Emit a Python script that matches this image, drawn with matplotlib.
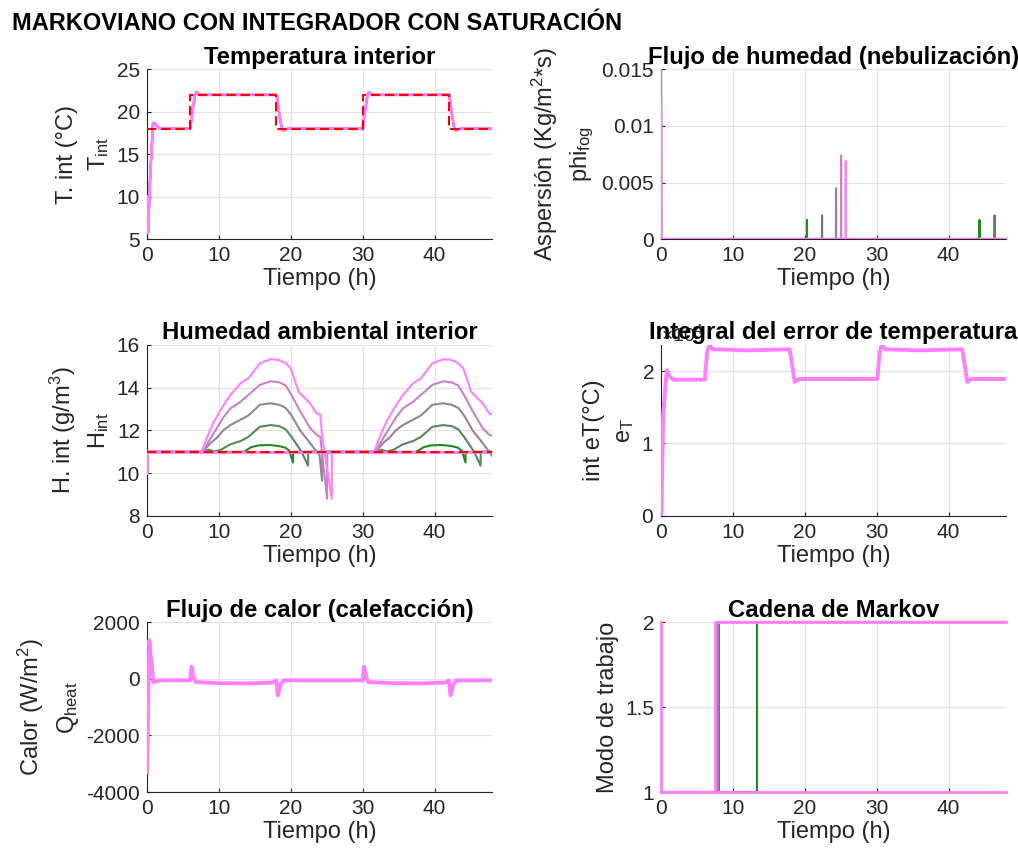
import matplotlib
matplotlib.use("Agg")
import matplotlib.pyplot as plt
from matplotlib.ticker import FuncFormatter, ScalarFormatter

plt.rcParams["font.family"] = ["Liberation Sans", "DejaVu Sans"]
plt.rcParams["axes.unicode_minus"] = False
plt.rcParams["mathtext.fontset"] = "custom"
plt.rcParams["mathtext.rm"] = "Liberation Sans"
plt.rcParams["mathtext.it"] = "Liberation Sans:italic"
plt.rcParams["mathtext.bf"] = "Liberation Sans:bold"

# one colour per simulation run, green -> pink
run_colors = ["#228b22", "#598859", "#918691", "#c883c8", "#ff80ff", "#ff80ff"]

# setpoints
t_sp = [0, 6, 6, 18, 18, 30, 30, 42, 42, 48]
temp_sp = [18, 18, 22, 22, 18, 18, 22, 22, 18, 18]
hum_sp_t = [0, 48]
hum_sp = [11, 11]

# interior temperature (same for every run)
t_temp = [0, 0.14, 0.45, 0.83, 1.06, 1.4, 1.85, 6.0, 6.3, 6.7, 6.9, 7.4, 18.05, 18.35,
          18.75, 19.0, 19.5, 30.0, 30.3, 30.7, 30.9, 31.4, 42.05, 42.35, 42.75, 43.0, 43.5, 48]
temp = [10, 5.7, 12.5, 18.6, 18.7, 18.3, 18.0, 18.0, 20.0, 22.1, 22.3, 22.0, 22.0, 20.0,
        18.0, 17.8, 18.0, 18.0, 20.0, 22.1, 22.3, 22.0, 22.0, 20.0, 18.0, 17.8, 18.0, 18.0]

# interior humidity per run
hum_t = [
    [0, 0, 13.5, 14.5, 15.5, 17.0, 18.3, 19.2, 19.8, 20.3, 20.32, 37.5, 38.5, 39.5, 41.0,
     42.3, 43.2, 43.8, 44.3, 44.32, 48],
    [0, 0, 7.9, 8.6, 9.3, 10.2, 11.6, 13.0, 14.1, 15.7, 17.2, 18.4, 19.3, 20.1, 21.0, 21.5,
     22.4, 22.42, 31.9, 32.6, 33.3, 34.2, 35.6, 37.0, 38.1, 39.7, 41.2, 42.4, 43.3, 44.1,
     45.0, 45.5, 46.4, 46.42, 48],
    [0, 0, 7.8, 8.8, 9.7, 10.6, 11.6, 13.0, 14.1, 15.7, 17.2, 18.4, 19.3, 20.1, 21.3, 22.7,
     23.6, 24.0, 24.35, 24.37, 31.8, 32.8, 33.7, 34.6, 35.6, 37.0, 38.1, 39.7, 41.2, 42.4,
     43.3, 44.1, 45.3, 46.7, 47.6, 48],
    [0, 0, 7.8, 8.6, 9.7, 10.6, 11.6, 13.0, 14.1, 15.7, 17.2, 18.4, 19.3, 20.1, 21.3, 22.7,
     23.6, 24.1, 25.05, 25.07, 31.8, 32.6, 33.7, 34.6, 35.6, 37.0, 38.1, 39.7, 41.2, 42.4,
     43.3, 44.1, 45.3, 46.7, 47.6, 48],
    [0, 0, 7.6, 8.5, 9.3, 10.5, 11.6, 13.0, 14.1, 15.7, 17.2, 18.3, 19.3, 20.0, 21.1, 22.0,
     22.7, 23.6, 24.1, 24.4, 25.7, 25.72, 31.6, 32.5, 33.3, 34.5, 35.6, 37.0, 38.1, 39.7,
     41.2, 42.3, 43.3, 44.0, 45.1, 46.0, 46.7, 47.6, 48],
    [0, 0, 48],
]
hum = [
    [10, 11, 11, 11.22, 11.3, 11.32, 11.27, 11.2, 11.05, 10.5, 11, 11, 11.22, 11.3, 11.32,
     11.27, 11.2, 11.05, 10.5, 11, 11],
    [10, 11, 11, 11.1, 11.02, 11.08, 11.35, 11.5, 11.7, 12.17, 12.25, 12.2, 12.05, 11.7,
     11.25, 11.0, 10.35, 11, 11, 11.1, 11.02, 11.08, 11.35, 11.5, 11.7, 12.17, 12.25, 12.2,
     12.05, 11.7, 11.25, 11.0, 10.35, 11, 11],
    [10, 11, 11, 11.4, 11.65, 12.0, 12.25, 12.5, 12.7, 13.2, 13.27, 13.2, 13.05, 12.7, 12.0,
     11.4, 11.0, 10.85, 9.65, 11, 11, 11.4, 11.65, 12.0, 12.25, 12.5, 12.7, 13.2, 13.27,
     13.2, 13.05, 12.7, 12.0, 11.4, 11.0, 10.8],
    [10, 11, 11, 11.5, 12.1, 12.6, 13.03, 13.34, 13.66, 14.13, 14.3, 14.25, 14.1, 13.66,
     12.9, 12.1, 11.8, 11.7, 8.8, 11, 11, 11.5, 12.1, 12.6, 13.03, 13.34, 13.66, 14.13, 14.3,
     14.25, 14.1, 13.66, 12.9, 12.1, 11.8, 11.75],
    [10, 11, 11, 11.8, 12.4, 13.1, 13.66, 14.2, 14.44, 15.14, 15.33, 15.3, 15.15, 14.9,
     13.8, 13.5, 13.27, 12.8, 12.75, 11.6, 8.8, 11, 11, 11.8, 12.4, 13.1, 13.66, 14.2, 14.44,
     15.14, 15.33, 15.3, 15.15, 14.9, 13.8, 13.5, 13.27, 12.8, 12.75],
    [10, 11, 11],
]

# fogging flow per run
fog_t = [
    [0, 0.02, 20.28, 20.3, 20.32, 44.28, 44.3, 44.32, 48],
    [0, 0.02, 22.38, 22.4, 22.42, 46.38, 46.4, 46.42, 48],
    [0, 0.02, 24.33, 24.35, 24.37, 48],
    [0, 0.02, 25.03, 25.05, 25.07, 48],
    [0, 0.02, 25.68, 25.7, 25.72, 48],
    [0, 0.02, 48],
]
fog = [
    [0.016, 0, 0, 0.0017, 0, 0, 0.0017, 0, 0],
    [0.016, 0, 0, 0.0021, 0, 0, 0.0021, 0, 0],
    [0.016, 0, 0, 0.0045, 0, 0],
    [0.016, 0, 0, 0.0074, 0, 0],
    [0.012, 0, 0, 0.0069, 0, 0],
    [0.012, 0, 0],
]

# integral of the temperature error (same for every run)
t_eint = [0, 0.05, 0.3, 0.8, 1.2, 1.7, 6.1, 6.4, 6.7, 7.2, 12.0, 17.9, 18.3, 18.6, 19.2,
          30.1, 30.4, 30.7, 31.2, 36.0, 41.9, 42.3, 42.6, 43.2, 48]
eint = [0, 0, 14000, 20100, 19300, 18800, 18800, 22500, 23600, 23000, 22850, 23000, 20500,
        18500, 18900, 18900, 22500, 23600, 23000, 22850, 23000, 20500, 18500, 18900, 18900]

# heating flux (same for every run)
t_heat = [0, 0.32, 0.6, 0.88, 1.3, 1.8, 6.0, 6.2, 6.45, 6.75, 10, 14, 17.5, 18.0, 18.2,
          18.6, 19.0, 30.0, 30.2, 30.45, 30.75, 34, 38, 41.5, 42.0, 42.2, 42.6, 43.0, 48]
heat = [-3300, 1370, 600, -110, -90, -50, -50, 430, 100, -110, -150, -160, -130, -50, -580,
        -200, -50, -50, 430, 100, -110, -150, -160, -130, -50, -580, -200, -50, -50]

# Markov chain mode per run
mode_t = [
    [0, 13.3, 13.3, 48],
    [0, 8.0, 8.0, 48],
    [0, 7.9, 7.9, 48],
    [0, 7.7, 7.7, 48],
    [0, 7.5, 7.5, 48],
    [0, 0, 48],
]
mode = [
    [1, 1, 2, 2],
    [1, 1, 2, 2],
    [1, 1, 2, 2],
    [1, 1, 2, 2],
    [1, 1, 2, 2],
    [2, 1, 1],
]


def gfmt(v, pos):
    return "%g" % v


def setup(ax, title, ylabel, yticks, ylim):
    ax.set_xlim(0, 48)
    ax.set_ylim(*ylim)
    ax.set_xticks([0, 10, 20, 30, 40])
    ax.set_yticks(yticks)
    ax.grid(True, color="#e3e3e3", lw=0.9)
    ax.set_axisbelow(True)
    for s in ["top", "right"]:
        ax.spines[s].set_visible(False)
    for s in ["left", "bottom"]:
        ax.spines[s].set_color("#262626")
        ax.spines[s].set_linewidth(0.8)
    ax.tick_params(direction="in", length=3, width=0.8, colors="#262626",
                   labelsize=15, pad=5)
    ax.set_title(title, fontsize=17.2, fontweight="bold", pad=4, y=1.0)
    ax.set_xlabel("Tiempo (h)", fontsize=17, color="#262626", labelpad=2)
    ax.set_ylabel(ylabel, fontsize=17, color="#262626", labelpad=4, linespacing=1.45)


def draw(ax, xs, ys, widths, clip=True):
    for x, y, c, w in zip(xs, ys, run_colors, widths):
        ax.plot(x, y, color=c, lw=w, zorder=3, clip_on=clip)


fig = plt.figure(figsize=(10.18, 8.57), dpi=100)
fig.text(0.012, 0.972, "MARKOVIANO CON INTEGRADOR CON SATURACIÓN", fontsize=17,
         fontweight="bold", ha="left", va="center")

W = 0.339
ax_temp = fig.add_axes([0.1444, 0.721, W, 0.198])
ax_fog = fig.add_axes([0.6493, 0.721, W, 0.198])
ax_hum = fig.add_axes([0.1444, 0.398, W, 0.1995])
ax_int = fig.add_axes([0.6493, 0.398, W, 0.1995])
ax_heat = fig.add_axes([0.1444, 0.0758, W, 0.198])
ax_mk = fig.add_axes([0.6493, 0.0758, W, 0.198])

# temperature
draw(ax_temp, [t_temp] * 6, [temp] * 6, [1.5] * 5 + [2.0])
ax_temp.plot(t_sp, temp_sp, color="#ff0000", lw=1.5, ls="--", dashes=(4.5, 2.3), zorder=4)
setup(ax_temp, "Temperatura interior", "T. int (°C)\nT$_{\\rm int}$",
      [5, 10, 15, 20, 25], (5, 25))

# fogging
draw(ax_fog, fog_t, fog, [1.5] * 5 + [2.0], clip=False)
ax_fog.set_ylim(0, 0.015)
for ln in ax_fog.lines:
    ln.set_clip_on(True)
setup(ax_fog, "Flujo de humedad (nebulización)", "Aspersión (Kg/m$^{2}$*s)\nphi$_{\\rm fog}$",
      [0, 0.005, 0.01, 0.015], (0, 0.015))
ax_fog.yaxis.set_major_formatter(FuncFormatter(gfmt))

# humidity
draw(ax_hum, hum_t, hum, [1.5] * 5 + [2.0])
ax_hum.plot(hum_sp_t, hum_sp, color="#ff0000", lw=1.5, ls="--", dashes=(4.5, 2.3), zorder=4)
setup(ax_hum, "Humedad ambiental interior", "H. int (g/m$^3$)\nH$_{\\rm int}$",
      [8, 10, 12, 14, 16], (8, 16))

# integral of the temperature error
draw(ax_int, [t_eint] * 6, [eint] * 6, [1.5] * 5 + [2.8])
setup(ax_int, "Integral del error de temperatura", "int eT(°C)\ne$_{\\rm T}$",
      [0, 10000, 20000], (0, 23600))
fmt = ScalarFormatter(useMathText=True)
fmt.set_powerlimits((0, 0))
ax_int.yaxis.set_major_formatter(fmt)
ax_int.yaxis.get_offset_text().set_fontsize(14)
ax_int.yaxis.get_offset_text().set_color("#262626")

# heating
draw(ax_heat, [t_heat] * 6, [heat] * 6, [1.5] * 5 + [2.8])
setup(ax_heat, "Flujo de calor (calefacción)", "Calor (W/m$^2$)\nQ$_{\\rm heat}$",
      [-4000, -2000, 0, 2000], (-4000, 2000))

# Markov chain mode
draw(ax_mk, mode_t, mode, [1.5] * 4 + [2.0, 2.0], clip=False)
setup(ax_mk, "Cadena de Markov", "Modo de trabajo", [1, 1.5, 2], (1, 2))
ax_mk.yaxis.set_major_formatter(FuncFormatter(gfmt))

fig.savefig("out.png", dpi=100)
